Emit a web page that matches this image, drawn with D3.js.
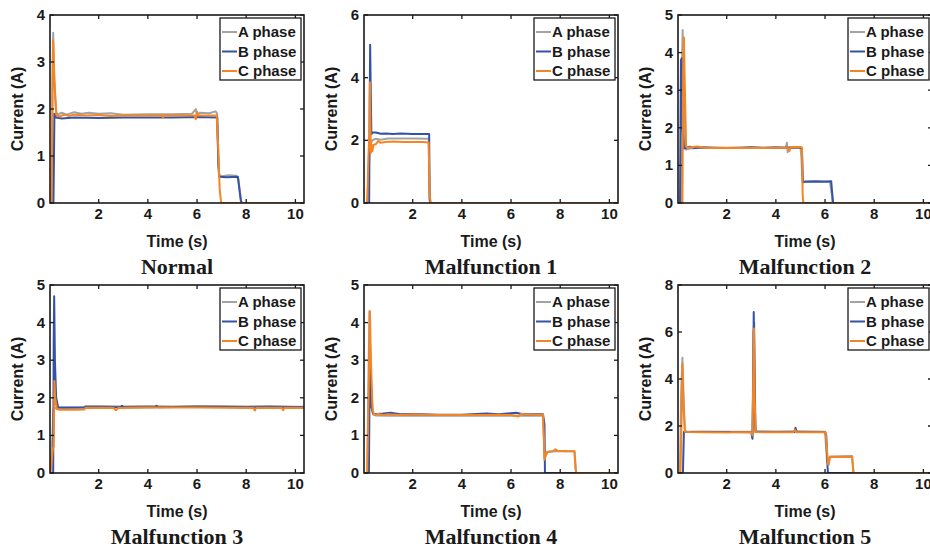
<!DOCTYPE html>
<html>

<head>
    <meta charset='utf-8'>
</head>
<style>
    body {
        margin: 0;
        background: #fff;
    }

    .frame {
        fill: none;
        stroke: #1a1a1a;
        stroke-width: 1.6px;
    }

    .tick-mark {
        stroke: #1a1a1a;
        stroke-width: 1.3px;
    }

    .tick-label,
    .axis-label,
    .legend-text {
        font-family: "Liberation Sans", Arial, sans-serif;
        font-weight: bold;
        fill: #1a1a1a;
    }

    .title {
        font-family: "Liberation Serif", "Times New Roman", serif;
        font-weight: bold;
        font-size: 22px;
        fill: #1a1a1a;
    }

    .trace {
        fill: none;
        stroke-width: 2px;
        stroke-linejoin: round;
    }
</style>

<body>
    <div id='chart'></div>
    <script src="https://d3js.org/d3.v7.min.js"></script>
    <script>
        // panel titles, y ranges, y ticks
        var titles = ["Normal", "Malfunction 1", "Malfunction 2", "Malfunction 3", "Malfunction 4", "Malfunction 5"];
        var yMax = [4, 6, 5, 5, 5, 8];
        var yTicks = [[0, 1, 2, 3, 4], [0, 2, 4, 6], [0, 1, 2, 3, 4, 5], [0, 1, 2, 3, 4, 5], [0, 1, 2, 3, 4, 5], [0, 2, 4, 6, 8]];
        var xTicks = [2, 4, 6, 8, 10];
        var phases = ["A phase", "B phase", "C phase"];
        var phaseColors = ["#a3a3a3", "#3453a6", "#f58522"];

        // current traces, [time (s), current (A)]
        var normalA = [[0.02, 0], [0.10, 0], [0.13, 3.0], [0.15, 3.62], [0.18, 2.8], [0.26, 1.95], [0.32, 1.88], [0.5, 1.92], [0.7, 1.88], [1.0, 1.93], [1.3, 1.9], [1.6, 1.92], [2.0, 1.9], [2.5, 1.91], [3.0, 1.88], [4.0, 1.89], [5.0, 1.89], [5.8, 1.9], [5.95, 2.0], [6.0, 1.85], [6.1, 1.92], [6.5, 1.91], [6.75, 1.95], [6.82, 1.9], [6.86, 0.9], [6.9, 0.6], [7.0, 0.57], [7.3, 0.59], [7.6, 0.58], [7.68, 0.5], [7.8, 0.02], [7.85, 0], [10.35, 0]];
        var normalB = [[0.02, 0], [0.16, 0], [0.2, 1.9], [0.26, 1.82], [0.5, 1.8], [1, 1.82], [2, 1.81], [3, 1.82], [4, 1.82], [5, 1.82], [6, 1.83], [6.82, 1.82], [6.87, 0.8], [6.9, 0.56], [7.2, 0.55], [7.66, 0.56], [7.78, 0.05], [7.82, 0], [10.35, 0]];
        var normalC = [[0.02, 0], [0.08, 0], [0.12, 2.5], [0.15, 3.45], [0.2, 2.6], [0.28, 1.87], [0.4, 1.84], [0.6, 1.88], [0.8, 1.85], [1.0, 1.88], [1.5, 1.86], [2, 1.87], [2.5, 1.85], [3, 1.86], [4, 1.86], [4.6, 1.86], [4.62, 1.81], [4.64, 1.86], [5.5, 1.86], [5.9, 1.86], [5.95, 1.78], [6.0, 1.94], [6.05, 1.86], [6.8, 1.86], [6.86, 1.2], [6.92, 0.3], [6.98, 0], [10.35, 0]];

        var mal1A = [[0.02, 0], [0.15, 0], [0.22, 1.2], [0.26, 1.8], [0.35, 2.0], [0.5, 2.05], [0.7, 2.02], [1, 2.06], [1.5, 2.06], [2, 2.06], [2.65, 2.05], [2.69, 0.2], [2.72, 0], [10.35, 0]];
        var mal1B = [[0.02, 0], [0.23, 0], [0.25, 3], [0.27, 5.05], [0.29, 3.8], [0.32, 2.2], [0.38, 2.25], [0.5, 2.25], [0.7, 2.21], [0.9, 2.22], [1.2, 2.2], [1.5, 2.22], [2, 2.2], [2.67, 2.2], [2.69, 0.1], [2.71, 0], [10.35, 0]];
        var mal1C = [[0.02, 0], [0.15, 0], [0.2, 1.5], [0.24, 2.2], [0.26, 3.85], [0.28, 2.5], [0.3, 1.6], [0.33, 1.85], [0.36, 1.65], [0.4, 1.85], [0.5, 1.88], [0.6, 1.98], [0.7, 1.92], [0.9, 1.95], [1.2, 1.96], [1.6, 1.95], [2, 1.95], [2.4, 1.95], [2.65, 1.93], [2.69, 0.3], [2.73, 0], [10.35, 0]];

        var mal2A = [[0.02, 0], [0.16, 0], [0.19, 4.0], [0.21, 4.6], [0.25, 3.0], [0.3, 1.5], [0.35, 1.42], [0.5, 1.45], [1.0, 1.47], [2, 1.46], [3, 1.47], [4.0, 1.46], [4.4, 1.47], [4.45, 1.6], [4.48, 1.35], [4.52, 1.48], [5.0, 1.48], [5.04, 1.2], [5.08, 0.55], [5.2, 0.56], [6.2, 0.56], [6.28, 0.2], [6.3, 0], [10.35, 0]];
        var mal2B = [[0.02, 0], [0.1, 0], [0.14, 3.8], [0.17, 3.85], [0.2, 2.0], [0.26, 1.45], [0.5, 1.5], [0.7, 1.46], [1.0, 1.48], [1.5, 1.47], [2.0, 1.46], [2.5, 1.47], [3.0, 1.48], [3.5, 1.47], [4.0, 1.48], [4.5, 1.47], [5.0, 1.47], [5.06, 1.45], [5.1, 0.55], [5.2, 0.57], [5.6, 0.58], [6.0, 0.57], [6.25, 0.58], [6.3, 0.2], [6.33, 0], [10.35, 0]];
        var mal2C = [[0.02, 0], [0.2, 0], [0.23, 3.5], [0.26, 4.4], [0.3, 3.0], [0.35, 1.5], [0.4, 1.47], [0.8, 1.5], [1.2, 1.46], [2, 1.47], [3, 1.46], [4, 1.47], [4.5, 1.47], [4.55, 1.38], [4.6, 1.48], [5.0, 1.49], [5.06, 1.47], [5.09, 0.2], [5.12, 0], [10.35, 0]];

        var mal3A = [[0.02, 0], [0.03, 0], [0.12, 1.0], [0.16, 1.7], [0.2, 1.72], [0.4, 1.73], [1.4, 1.74], [1.45, 1.78], [2, 1.78], [3, 1.77], [4, 1.78], [5, 1.77], [6, 1.78], [7, 1.78], [8, 1.77], [9, 1.78], [10, 1.76], [10.35, 1.76]];
        var mal3B = [[0.02, 0], [0.15, 0], [0.17, 3.5], [0.19, 4.7], [0.22, 3.0], [0.27, 2.0], [0.35, 1.75], [0.5, 1.74], [1, 1.74], [1.4, 1.74], [1.45, 1.75], [2.9, 1.75], [2.95, 1.79], [3, 1.75], [4.3, 1.75], [4.35, 1.79], [4.4, 1.75], [6, 1.76], [8, 1.75], [10.35, 1.75]];
        var mal3C = [[0.02, 0], [0.04, 0], [0.14, 0.65], [0.17, 0.7], [0.2, 2.45], [0.23, 2.0], [0.3, 1.7], [0.4, 1.68], [1.0, 1.68], [1.42, 1.69], [1.45, 1.73], [2.6, 1.73], [2.7, 1.67], [2.8, 1.73], [4, 1.74], [6, 1.74], [8.3, 1.73], [8.35, 1.66], [8.4, 1.73], [9.45, 1.73], [9.5, 1.67], [9.55, 1.73], [10.35, 1.73]];

        var mal4A = [[0.02, 0], [0.15, 0], [0.2, 2.5], [0.24, 4.3], [0.3, 2.5], [0.37, 1.6], [0.5, 1.53], [1, 1.52], [2, 1.53], [3, 1.52], [4, 1.52], [5, 1.53], [6, 1.52], [7, 1.53], [7.3, 1.52], [7.36, 0.4], [7.5, 0.57], [8, 0.58], [8.58, 0.58], [8.65, 0], [10.35, 0]];
        var mal4B = [[0.02, 0], [0.22, 0], [0.26, 3.5], [0.3, 1.8], [0.4, 1.56], [0.8, 1.58], [1.1, 1.6], [1.5, 1.56], [2, 1.57], [3, 1.55], [4, 1.55], [5, 1.58], [5.5, 1.56], [6.2, 1.6], [6.5, 1.56], [7.3, 1.56], [7.36, 1.3], [7.38, 0], [10.35, 0]];
        var mal4C = [[0.02, 0], [0.15, 0], [0.22, 2.5], [0.26, 4.3], [0.3, 3.0], [0.37, 1.7], [0.42, 1.55], [0.6, 1.57], [0.8, 1.54], [1, 1.56], [1.3, 1.55], [1.6, 1.54], [2, 1.56], [2.5, 1.55], [3, 1.54], [4, 1.54], [5, 1.54], [5.5, 1.55], [6, 1.54], [6.3, 1.5], [6.4, 1.57], [7, 1.55], [7.3, 1.55], [7.34, 0.9], [7.36, 0.35], [7.45, 0.55], [7.7, 0.58], [7.8, 0.63], [7.9, 0.59], [8.2, 0.58], [8.58, 0.58], [8.62, 0.1], [8.66, 0], [10.35, 0]];

        var mal5A = [[0.02, 0], [0.1, 0], [0.15, 3.5], [0.2, 4.9], [0.24, 3.5], [0.3, 1.8], [0.4, 1.76], [1, 1.77], [2, 1.76], [3.0, 1.76], [3.05, 1.7], [3.09, 6.0], [3.12, 6.4], [3.16, 2.0], [3.2, 1.78], [4, 1.77], [4.8, 1.78], [5.5, 1.77], [6.0, 1.76], [6.08, 0.5], [6.15, 0.35], [6.2, 0.7], [7.1, 0.72], [7.15, 0], [10.35, 0]];
        var mal5B = [[0.02, 0], [0.22, 0], [0.26, 1.75], [0.4, 1.75], [1, 1.74], [2, 1.74], [3.0, 1.73], [3.05, 1.46], [3.08, 4.0], [3.1, 6.85], [3.13, 4.5], [3.17, 1.75], [4, 1.74], [4.75, 1.74], [4.8, 1.92], [4.85, 1.74], [5.5, 1.74], [6.0, 1.74], [6.05, 1.6], [6.1, 0.3], [6.12, 0], [10.35, 0]];
        var mal5C = [[0.02, 0], [0.12, 0], [0.17, 2.5], [0.2, 4.65], [0.24, 3.0], [0.3, 1.76], [0.5, 1.74], [1, 1.73], [2.1, 1.72], [2.2, 1.73], [3.0, 1.73], [3.05, 1.6], [3.08, 4.0], [3.11, 6.15], [3.14, 3.0], [3.18, 1.74], [4, 1.73], [4.7, 1.73], [4.78, 1.84], [4.85, 1.73], [5.5, 1.73], [6.02, 1.73], [6.08, 1.0], [6.12, 0.35], [6.2, 0.68], [7.1, 0.69], [7.13, 0.35], [7.16, 0], [10.35, 0]];

        var traces = [
            [normalA, normalB, normalC],
            [mal1A, mal1B, mal1C],
            [mal2A, mal2B, mal2C],
            [mal3A, mal3B, mal3C],
            [mal4A, mal4B, mal4C],
            [mal5A, mal5B, mal5C]
        ];

        var width = 930;
        var height = 550;
        var plotW = 254;
        var plotH = 188;
        var colLeft = [50, 364, 678];
        var rowTop = [15, 285];

        var svg = d3.select('#chart')
            .append('svg')
            .attr('width', width)
            .attr('height', height);

        titles.forEach(function(title, i) {
            var left = colLeft[i % 3];
            var top = rowTop[Math.floor(i / 3)];
            var g = svg.append('g').attr('transform', 'translate(' + left + ',' + top + ')');

            var x = d3.scaleLinear().domain([0.02, 10.35]).range([0, plotW]);
            var y = d3.scaleLinear().domain([0, yMax[i]]).range([plotH, 0]);

            g.append('clipPath').attr('id', 'clip' + i)
                .append('rect').attr('width', plotW).attr('height', plotH + 1).attr('y', -1);

            var line = d3.line()
                .x(function(d) { return x(d[0]); })
                .y(function(d) { return y(d[1]); });

            g.append('g').attr('clip-path', 'url(#clip' + i + ')')
                .selectAll('path')
                .data(traces[i])
                .enter().append('path')
                .attr('class', 'trace')
                .attr('stroke', function(d, k) { return phaseColors[k]; })
                .attr('d', line);

            // inward ticks on all four sides
            xTicks.forEach(function(t) {
                g.append('line').attr('class', 'tick-mark')
                    .attr('x1', x(t)).attr('x2', x(t)).attr('y1', plotH).attr('y2', plotH - 4);
                g.append('line').attr('class', 'tick-mark')
                    .attr('x1', x(t)).attr('x2', x(t)).attr('y1', 0).attr('y2', 4);
                g.append('text').attr('class', 'tick-label')
                    .attr('x', x(t)).attr('y', plotH + 16)
                    .attr('text-anchor', 'middle')
                    .style('font-size', '15px')
                    .text(t);
            });
            yTicks[i].forEach(function(t) {
                g.append('line').attr('class', 'tick-mark')
                    .attr('x1', 0).attr('x2', 4).attr('y1', y(t)).attr('y2', y(t));
                g.append('line').attr('class', 'tick-mark')
                    .attr('x1', plotW).attr('x2', plotW - 4).attr('y1', y(t)).attr('y2', y(t));
                g.append('text').attr('class', 'tick-label')
                    .attr('x', -5).attr('y', y(t) + 5)
                    .attr('text-anchor', 'end')
                    .style('font-size', '15px')
                    .text(t);
            });

            g.append('rect').attr('class', 'frame')
                .attr('width', plotW).attr('height', plotH);

            g.append('text').attr('class', 'axis-label')
                .attr('x', plotW / 2).attr('y', plotH + 44)
                .attr('text-anchor', 'middle')
                .style('font-size', '16px')
                .text('Time (s)');

            g.append('text').attr('class', 'axis-label')
                .attr('transform', 'translate(-27,' + (plotH / 2) + ') rotate(-90)')
                .attr('text-anchor', 'middle')
                .style('font-size', '16px')
                .text('Current (A)');

            g.append('text').attr('class', 'title')
                .attr('x', plotW / 2).attr('y', plotH + 71)
                .attr('text-anchor', 'middle')
                .text(title);

            // legend
            var lg = g.append('g').attr('transform', 'translate(' + (plotW - 84) + ',3)');
            lg.append('rect')
                .attr('width', 81).attr('height', 62)
                .attr('fill', '#fff').attr('stroke', '#1a1a1a').attr('stroke-width', 1.3);
            phases.forEach(function(p, k) {
                var ly = 14 + k * 19.5;
                lg.append('line')
                    .attr('x1', 2).attr('x2', 17).attr('y1', ly).attr('y2', ly)
                    .attr('stroke', phaseColors[k]).attr('stroke-width', 2);
                lg.append('text').attr('class', 'legend-text')
                    .attr('x', 18).attr('y', ly + 5)
                    .style('font-size', '15px')
                    .text(p);
            });
        });
    </script>
</body>

</html>
